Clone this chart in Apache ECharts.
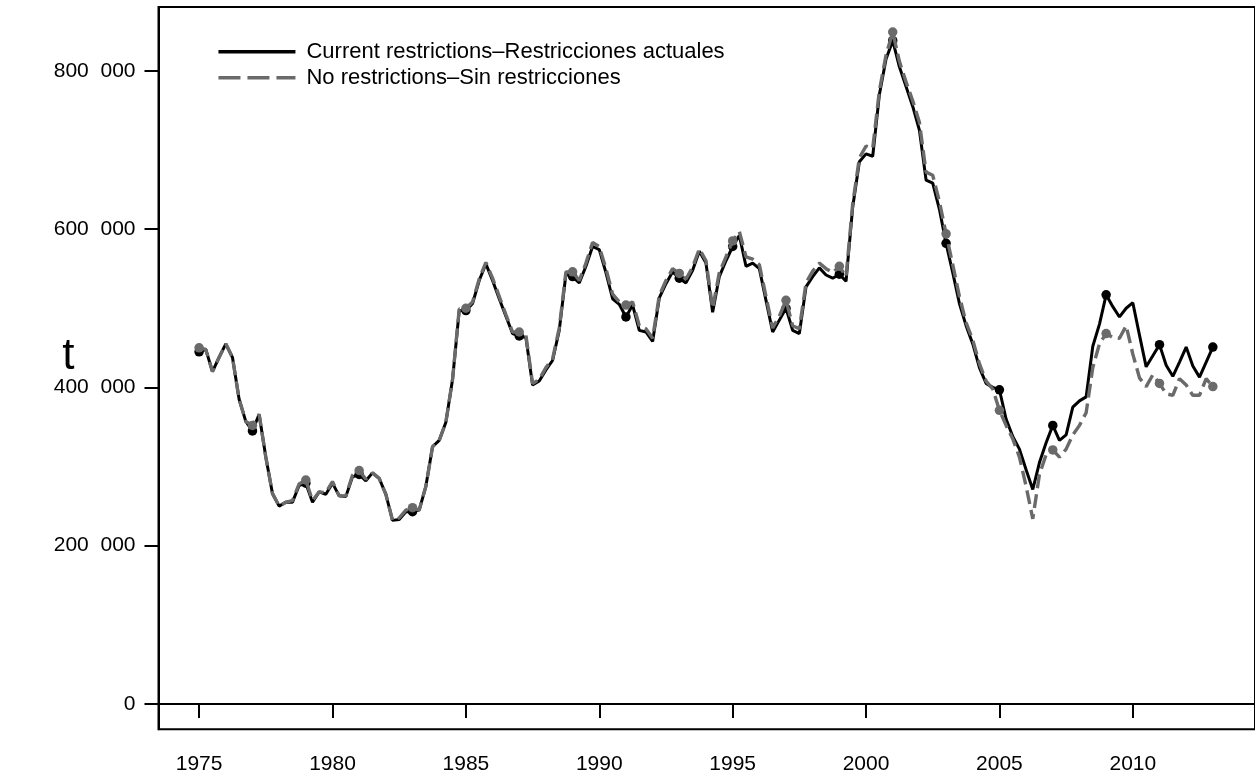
<!DOCTYPE html>
<html>
<head>
<meta charset="utf-8">
<script src="https://cdn.jsdelivr.net/npm/echarts@6/dist/echarts.min.js"></script>
<style>
html,body{margin:0;padding:0;background:#fff;}
#chart{width:1255px;height:778px;}
</style>
</head>
<body>
<div id="chart"></div>
<script>
// Quarterly series, first value = 1975 Q1, last value = 2013 Q1
const startYear = 1975;
const stepsPerYear = 4;

const currentRestrictions = [
  445000, 448000, 420000, 438000,
  455000, 438000, 385000, 357000,
  345000, 366000, 312000, 266000,
  250000, 255000, 255000, 276000,
  279000, 255000, 268000, 265000,
  279000, 263000, 262000, 287000,
  290000, 282000, 292000, 285000,
  265000, 232000, 233000, 243000,
  243000, 245000, 275000, 325000,
  333000, 356000, 410000, 497000,
  497000, 506000, 535000, 556000,
  535000, 512000, 490000, 468000,
  465000, 463000, 403000, 408000,
  422000, 434000, 472000, 543000,
  540000, 532000, 553000, 578000,
  574000, 545000, 512000, 505000,
  489000, 504000, 472000, 470000,
  458000, 513000, 531000, 546000,
  538000, 532000, 548000, 572000,
  557000, 495000, 540000, 560000,
  578000, 592000, 553000, 557000,
  550000, 510000, 470000, 485000,
  500000, 472000, 468000, 527000,
  540000, 551000, 542000, 538000,
  543000, 534000, 628000, 685000,
  695000, 692000, 770000, 815000,
  838000, 805000, 780000, 755000,
  725000, 662000, 658000, 625000,
  582000, 545000, 506000, 478000,
  455000, 425000, 405000, 400000,
  397000, 360000, 338000, 322000,
  296000, 271000, 305000, 330000,
  352000, 333000, 340000, 375000,
  383000, 388000, 452000, 480000,
  517000, 502000, 489000, 500000,
  507000, 466000, 426000, 440000,
  454000, 428000, 414000, 432000,
  451000, 427000, 413000, 432000,
  451000
];

const noRestrictions = [
  450000, 448000, 420000, 438000,
  455000, 438000, 385000, 357000,
  352000, 366000, 312000, 266000,
  250000, 255000, 257000, 278000,
  283000, 257000, 268000, 267000,
  281000, 263000, 263000, 289000,
  295000, 284000, 292000, 285000,
  265000, 232000, 235000, 245000,
  248000, 245000, 275000, 325000,
  333000, 356000, 410000, 499000,
  500000, 508000, 537000, 558000,
  538000, 515000, 492000, 470000,
  470000, 466000, 405000, 410000,
  425000, 436000, 475000, 546000,
  546000, 535000, 557000, 583000,
  578000, 550000, 518000, 508000,
  504000, 508000, 478000, 474000,
  462000, 516000, 535000, 550000,
  544000, 537000, 552000, 575000,
  560000, 500000, 545000, 565000,
  585000, 597000, 565000, 562000,
  555000, 515000, 475000, 490000,
  510000, 478000, 474000, 532000,
  547000, 557000, 550000, 545000,
  553000, 540000, 632000, 690000,
  705000, 702000, 775000, 820000,
  849000, 812000, 786000, 762000,
  735000, 672000, 668000, 635000,
  594000, 555000, 515000, 482000,
  460000, 430000, 408000, 398000,
  371000, 352000, 335000, 312000,
  275000, 234000, 290000, 315000,
  321000, 312000, 322000, 340000,
  352000, 368000, 425000, 455000,
  468000, 463000, 462000, 478000,
  442000, 412000, 401000, 416000,
  405000, 392000, 390000, 411000,
  403000, 390000, 390000, 411000,
  401000
];

const seriesNames = [
  'Current restrictions\u2013Restricciones actuales',
  'No restrictions\u2013Sin restricciones'
];
const yTickValues = [0, 200000, 400000, 600000, 800000];
const xTickYears = [1975, 1980, 1985, 1990, 1995, 2000, 2005, 2010];
const yAxisTitle = 't';

function toPairs(values) {
  return values.map((v, i) => [startYear + i / stepsPerYear, v]);
}
function fmtThousands(v) {
  const s = String(Math.round(v));
  return s.replace(/\B(?=(\d{3})+(?!\d))/g, '  ');
}
const markerEvery = 8;
function markerSize(val, params) {
  return params.dataIndex % markerEvery === 0 ? 9.5 : 0;
}

const fontFamily = '"Liberation Sans", Arial, sans-serif';
const chart = echarts.init(document.getElementById('chart'), null, {renderer: 'canvas'});
chart.setOption({
  animation: false,
  backgroundColor: '#ffffff',
  grid: {
    left: 158.5, right: -5, top: 7, bottom: 48.7,
    show: true, borderColor: '#000', borderWidth: 2, backgroundColor: 'transparent'
  },
  legend: {
    left: 216.7, top: 38.7, orient: 'vertical', padding: 0,
    itemWidth: 77, itemHeight: 14, itemGap: 0,
    itemStyle: {opacity: 0},
    lineStyle: {width: 3.5},
    textStyle: {fontFamily: fontFamily, fontSize: 22, color: '#000', lineHeight: 26, padding: [0, 0, 0, 6]},
    data: [
      {name: seriesNames[0]},
      {name: seriesNames[1], lineStyle: {width: 3.5, type: [22, 7]}}
    ]
  },
  xAxis: {
    type: 'value',
    min: 1973.478, max: 2014.58,
    splitLine: {show: false},
    axisLine: {show: true, lineStyle: {color: '#000', width: 2}},
    axisTick: {show: true, inside: false, length: 14, customValues: xTickYears, lineStyle: {color: '#000', width: 2}},
    axisLabel: {
      customValues: xTickYears, margin: 24,
      fontFamily: fontFamily, fontSize: 21, color: '#000',
      formatter: v => String(v)
    }
  },
  yAxis: {
    type: 'value',
    min: -31965, max: 880606,
    name: yAxisTitle, nameLocation: 'middle', nameRotate: 0, nameGap: 84,
    nameMoveOverlap: false,
    nameTextStyle: {fontFamily: fontFamily, fontSize: 44, color: '#000', verticalAlign: 'bottom', lineHeight: 22},
    splitLine: {show: false},
    axisLine: {show: true, lineStyle: {color: '#000', width: 2}},
    axisTick: {show: true, inside: false, length: 14, customValues: yTickValues, lineStyle: {color: '#000', width: 2}},
    axisLabel: {
      customValues: yTickValues, margin: 23,
      fontFamily: fontFamily, fontSize: 21, color: '#000',
      formatter: v => fmtThousands(v)
    }
  },
  series: [
    {
      name: seriesNames[0], type: 'line',
      data: toPairs(currentRestrictions),
      showSymbol: true, showAllSymbol: true,
      symbol: 'circle', symbolSize: markerSize,
      itemStyle: {color: '#000'},
      lineStyle: {color: '#000', width: 3},
      z: 2
    },
    {
      name: seriesNames[1], type: 'line',
      data: toPairs(noRestrictions),
      showSymbol: true, showAllSymbol: true,
      symbol: 'circle', symbolSize: markerSize,
      itemStyle: {color: '#6a6a6a'},
      lineStyle: {color: '#6a6a6a', width: 3.4, type: [14, 6]},
      z: 3
    }
  ]
});
</script>
</body>
</html>
